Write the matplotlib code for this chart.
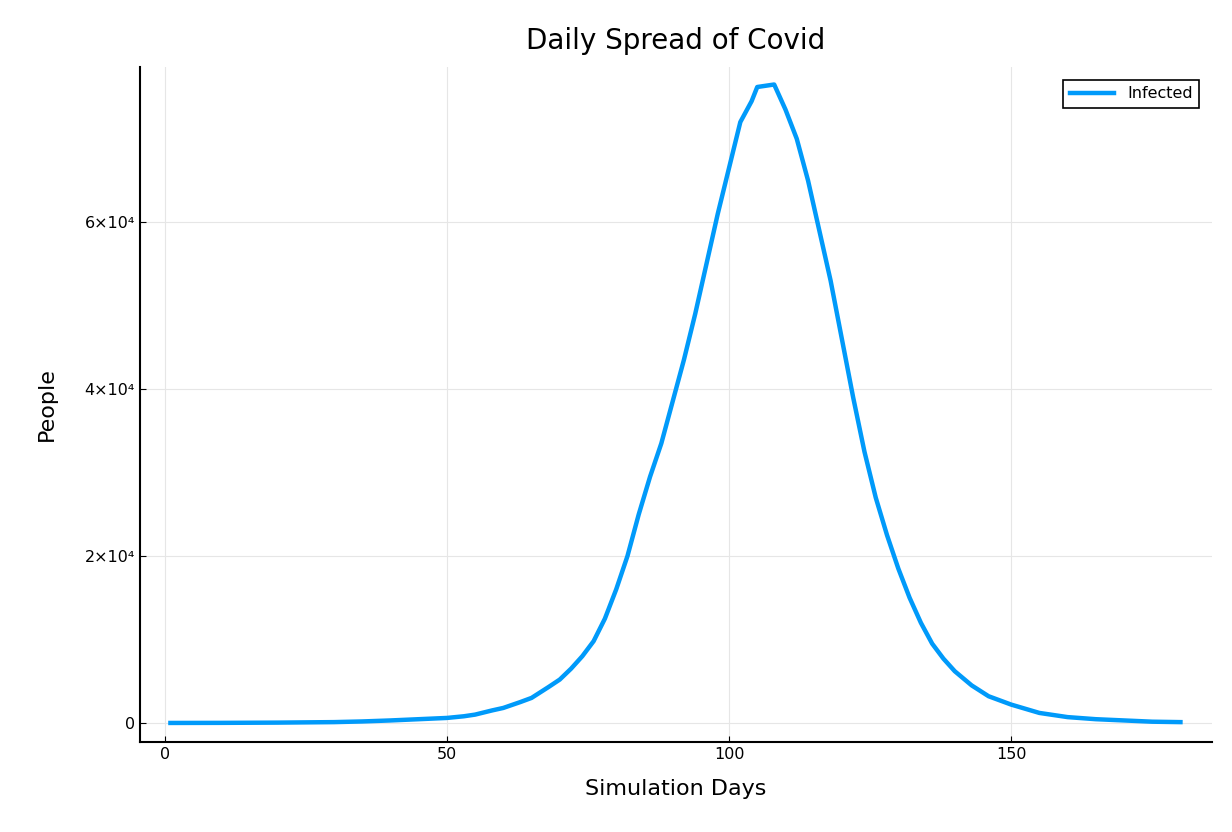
import matplotlib
matplotlib.use("Agg")
import matplotlib.pyplot as plt
from matplotlib.ticker import FixedLocator, FixedFormatter

days = [1, 10, 20, 30, 35, 40, 45, 50, 53, 55, 58, 60, 63, 65, 68, 70, 72, 74, 76,
        78, 80, 82, 84, 86, 88, 90, 92, 94, 96, 98, 100, 102, 104, 105, 107, 108,
        110, 112, 114, 116, 118, 120, 122, 124, 126, 128, 130, 132, 134, 136, 138,
        140, 143, 146, 150, 155, 160, 165, 170, 175, 180]
infected = [0, 10, 40, 100, 180, 300, 450, 600, 800, 1000, 1500, 1800, 2500, 3000,
            4300, 5200, 6500, 8000, 9800, 12500, 16000, 20000, 25000, 29500, 33500,
            38500, 43500, 49000, 55000, 61000, 66500, 72000, 74500, 76200, 76400,
            76500, 73500, 70000, 65000, 59000, 53000, 46000, 39000, 32500, 27000,
            22500, 18500, 15000, 12000, 9500, 7700, 6200, 4500, 3200, 2200, 1200,
            700, 450, 300, 150, 100]

y_ticks = [0, 20000, 40000, 60000]
y_labels = ['0', '2×10⁴', '4×10⁴', '6×10⁴']
x_ticks = [0, 50, 100, 150]

fig = plt.figure(figsize=(12.32, 8.32), dpi=100)
ax = fig.add_axes([0.1136, 0.108, 0.8702, 0.8115])

ax.plot(days, infected, color='#009AFA', linewidth=3.2, label='Infected')

ax.set_xlim(-4.4, 185.6)
ax.set_ylim(-2300, 78600)
ax.xaxis.set_major_locator(FixedLocator(x_ticks))
ax.yaxis.set_major_locator(FixedLocator(y_ticks))
ax.yaxis.set_major_formatter(FixedFormatter(y_labels))
ax.tick_params(direction='in', length=4, labelsize=11.5)
ax.grid(True, color='#e6e6e6', linewidth=0.8)

for s in ['top', 'right']:
    ax.spines[s].set_visible(False)
for s in ['left', 'bottom']:
    ax.spines[s].set_linewidth(1.5)

ax.set_title('Daily Spread of Covid', fontsize=20, pad=13)
ax.set_xlabel('Simulation Days', fontsize=16, labelpad=12)
ax.set_ylabel('People', fontsize=16, labelpad=20)

leg = ax.legend(loc='upper right', fontsize=11.5, fancybox=False, framealpha=1,
                edgecolor='black', handlelength=2.8, borderaxespad=0.8)
leg.get_frame().set_linewidth(1.2)

fig.savefig('out.png', dpi=100)
